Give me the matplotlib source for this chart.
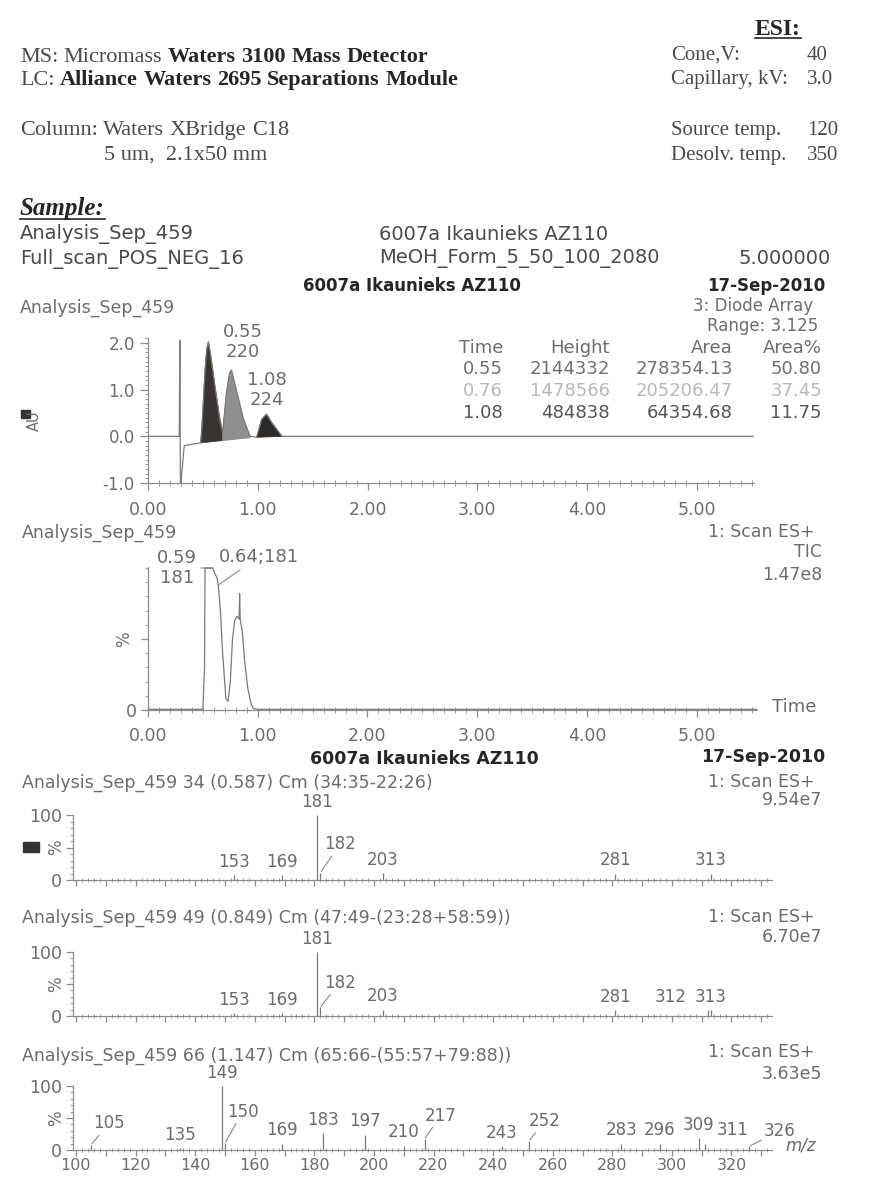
import matplotlib
matplotlib.use("Agg")
import matplotlib.pyplot as plt
from matplotlib.ticker import MultipleLocator, FixedLocator, FuncFormatter, NullFormatter
from matplotlib.lines import Line2D
from matplotlib.patches import Rectangle, Polygon

# ---------------------------------------------------------------- data
# Diode-array chromatogram: retention time (min) and absorbance (AU)
uv_time = [0.00, 0.285, 0.29, 0.295, 0.30, 0.33, 0.40, 0.48, 0.49, 0.52, 0.535,
           0.55, 0.57, 0.61, 0.655, 0.68, 0.715, 0.745, 0.76, 0.81, 0.87, 0.93,
           0.99, 1.035, 1.08, 1.125, 1.22, 5.52]
uv_au = [0.00, 0.00, 2.06, -1.00, -1.00, -0.20, -0.17, -0.14, 0.15, 1.43, 1.86,
         2.02, 1.75, 1.07, 0.36, 0.08, 0.94, 1.37, 1.43, 0.94, 0.36, 0.00,
         -0.02, 0.36, 0.475, 0.30, 0.00, 0.00]

# integrated diode-array peaks
peak_time = [0.55, 0.76, 1.08]
peak_height = [2144332, 1478566, 484838]
peak_area = [278354.13, 205206.47, 64354.68]
peak_area_pct = [50.80, 37.45, 11.75]
peak_start = [0.48, 0.68, 0.99]
peak_end = [0.68, 0.93, 1.22]
peak_floor_start = [-0.14, -0.09, -0.02]
peak_floor_end = [-0.09, -0.03, 0.00]
peak_floor_apex = [-0.12, -0.06, -0.01]
peak_lambda = {0.55: 220, 1.08: 224}

# total ion current (% of 1.47e8)
tic_time = [0.00, 0.50, 0.515, 0.52, 0.59, 0.61, 0.63, 0.64, 0.66, 0.68, 0.71,
            0.73, 0.75, 0.77, 0.79, 0.81, 0.83, 0.835, 0.84, 0.86, 0.88, 0.91,
            0.94, 0.96, 1.00, 5.55]
tic_pct = [0.5, 0.5, 30, 100, 100, 96, 93, 88, 70, 40, 8,
           6, 20, 50, 63, 66, 64, 82, 64, 55, 35, 15,
           4, 1, 0.5, 0.5]

# mass spectra (m/z, relative intensity %)
ms1_mz = [153, 169, 181, 182, 203, 281, 313]
ms1_int = [7, 7, 100, 11, 11, 10, 10]
ms2_mz = [153, 169, 181, 182, 203, 281, 312, 313]
ms2_int = [4, 4, 100, 14, 10, 9, 9, 9]
ms3_mz = [105, 135, 149, 150, 169, 183, 197, 210, 217, 243, 252, 283, 296, 309, 311, 326]
ms3_int = [8, 3, 100, 11, 10, 26, 24, 7, 17, 6, 14, 10, 10, 18, 10, 6]

# ---------------------------------------------------------------- style
SANS = ["DejaVu Sans"]
SERIF = ["Liberation Serif", "DejaVu Serif"]
INK = "#262626"
SOFT = "#4a4a4a"
GREY = "#6c6c6c"
PALE = "#b8b8b8"
AXIS = "#8c8c8c"
TRACE = "#7a7a7a"
PEAK_FILL = ["#3b3430", "#8f8f8f", "#2e2926"]

plt.rcParams["font.family"] = SANS

W, H = 879, 1179
fig = plt.figure(figsize=(W / 100, H / 100), dpi=100)
fig.patch.set_facecolor("white")
rend = fig.canvas.get_renderer()


def fx(x):
    return x / W


def fy(y):
    return 1 - y / H


def put(x, y, s, size=12.5, color=GREY, ha="left", va="center", family=SANS, **kw):
    return fig.text(fx(x), fy(y), s, fontsize=size, color=color, ha=ha, va=va,
                    family=family, **kw)


def runs(x, y, parts, size):
    """Serif words of mixed weight laid out along one baseline."""
    gap = size * 100 / 72 * 0.25
    for word, weight, color in parts:
        t = put(x, y, word, size=size, color=color, va="baseline", family=SERIF,
                weight=weight)
        x += t.get_window_extent(rend).width + gap
    return x


def underline(t, y, lw=1.2):
    bb = t.get_window_extent(rend)
    fig.add_artist(Line2D([bb.x0 / W, bb.x1 / W], [fy(y), fy(y)], color=INK, lw=lw))


def axes_px(left, top, right, bottom):
    ax = fig.add_axes([fx(left), fy(bottom), (right - left) / W, (bottom - top) / H])
    ax.patch.set_alpha(0)
    for s in ("top", "right"):
        ax.spines[s].set_visible(False)
    for s in ("left", "bottom"):
        ax.spines[s].set_color(AXIS)
        ax.spines[s].set_linewidth(0.9)
    ax.tick_params(which="both", colors=AXIS, labelcolor=GREY)
    return ax


# ---------------------------------------------------------------- header
t = put(778, 35, "ESI:", size=17, color=INK, ha="center", va="baseline",
        family=SERIF, weight="bold")
underline(t, 38)

runs(20, 62, [("MS:", "normal", SOFT), ("Micromass", "normal", SOFT),
              ("Waters", "bold", INK), ("3100", "bold", INK), ("Mass", "bold", INK),
              ("Detector", "bold", INK)], 16)
runs(20, 85, [("LC:", "normal", SOFT), ("Alliance", "bold", INK), ("Waters", "bold", INK),
              ("2695", "bold", INK), ("Separations", "bold", INK), ("Module", "bold", INK)], 16)
runs(20, 135, [("Column:", "normal", SOFT), ("Waters", "normal", SOFT),
               ("XBridge", "normal", SOFT), ("C18", "normal", SOFT)], 16)
put(104, 160, "5 um,  2.1x50 mm", size=16, color=SOFT, va="baseline", family=SERIF)

for y, name, val in [(60, "Cone,V:", "40"), (84, "Capillary, kV:", "3.0"),
                     (135, "Source temp.", "120"), (160, "Desolv. temp.", "350")]:
    put(671, y, name, size=15, color=SOFT, va="baseline", family=SERIF)
    put(807, y, val, size=15, color=SOFT, va="baseline", family=SERIF)

t = put(20, 215, "Sample:", size=18, color=INK, va="baseline", family=SERIF,
        weight="bold", style="italic")
underline(t, 219)

put(20, 234, "Analysis_Sep_459", size=14, color=SOFT)
put(20, 259, "Full_scan_POS_NEG_16", size=14, color=SOFT)
put(379, 234, "6007a Ikaunieks AZ110", size=14, color=SOFT)
put(379, 259, "MeOH_Form_5_50_100_2080", size=14, color=SOFT)
put(831, 259, "5.000000", size=14, color=SOFT, ha="right")
put(303, 286, "6007a Ikaunieks AZ110", size=12, color=INK, weight="bold")
put(825, 286, "17-Sep-2010", size=12, color=INK, weight="bold", ha="right")

# ---------------------------------------------------------------- diode array
put(20, 308, "Analysis_Sep_459", size=12.5)
put(813, 306, "3: Diode Array", size=12, ha="right")
put(818, 326, "Range: 3.125", size=12, ha="right")

col_right = [503, 610, 733, 822]
for xr, head in zip(col_right, ["Time", "Height", "Area", "Area%"]):
    put(xr, 348, head, size=13, ha="right")
row_colors = ["#707070", PALE, "#555555"]
for i, (tm, ht, ar, pc) in enumerate(zip(peak_time, peak_height, peak_area, peak_area_pct)):
    y = 369 + 22 * i
    for xr, s in zip(col_right, [f"{tm:.2f}", f"{ht:d}", f"{ar:.2f}", f"{pc:.2f}"]):
        put(xr, y, s, size=13, ha="right", color=row_colors[i])

# apex of every integrated peak sits at its floor plus the tabulated height
for tm, ht, fl in zip(peak_time, peak_height, peak_floor_apex):
    uv_au[uv_time.index(tm)] = ht / 1e6 + fl

ax_uv = axes_px(148, 338.3, 754, 483)
ax_uv.set_xlim(0, 5.52)
ax_uv.set_ylim(-1.0, 2.1)
for i in range(len(peak_time)):
    pts = [(tt, vv) for tt, vv in zip(uv_time, uv_au) if peak_start[i] <= tt <= peak_end[i]]
    pts += [(peak_end[i], peak_floor_end[i]), (peak_start[i], peak_floor_start[i])]
    ax_uv.add_patch(Polygon(pts, closed=True, facecolor=PEAK_FILL[i], edgecolor=PEAK_FILL[i],
                            lw=0.6))
ax_uv.plot(uv_time, uv_au, color=TRACE, lw=0.9)

for tm, nm in peak_lambda.items():
    apex = uv_au[uv_time.index(tm)]
    if tm == peak_time[0]:
        ax_uv.annotate(f"{tm:.2f}\n{nm}", xy=(tm, apex), xytext=(25, 0),
                       textcoords="offset points", ha="center", va="center",
                       fontsize=13, color=GREY, linespacing=1.15, annotation_clip=False)
    else:
        ax_uv.annotate(f"{tm:.2f}\n{nm}", xy=(tm, apex), xytext=(0, 4),
                       textcoords="offset points", ha="center", va="bottom",
                       fontsize=13, color=GREY, linespacing=1.15, annotation_clip=False)

ax_uv.xaxis.set_major_locator(MultipleLocator(1.0))
ax_uv.xaxis.set_minor_locator(MultipleLocator(0.1))
ax_uv.xaxis.set_major_formatter(FuncFormatter(lambda v, p: f"{v:.2f}"))
ax_uv.yaxis.set_major_locator(FixedLocator([-1.0, 0.0, 1.0, 2.0]))
ax_uv.yaxis.set_minor_locator(MultipleLocator(0.1))
ax_uv.yaxis.set_major_formatter(FuncFormatter(lambda v, p: f"{v:.1f}"))
ax_uv.tick_params(axis="x", which="major", direction="out", length=5, width=0.9,
                  pad=8, labelsize=12.5)
ax_uv.tick_params(axis="x", which="minor", direction="inout", length=4, width=0.6)
ax_uv.tick_params(axis="y", which="major", direction="out", length=6, width=0.9,
                  pad=3.5, labelsize=12)
ax_uv.tick_params(axis="y", which="minor", direction="out", length=2.5, width=0.6)

fig.add_artist(Rectangle((fx(21), fy(418)), 9 / W, 8 / H, color="#333333"))
put(34, 421, "AU", size=10.5, color=GREY, ha="center", rotation=90)

# ---------------------------------------------------------------- TIC
put(22, 533, "Analysis_Sep_459", size=12.5)
put(815, 532, "1: Scan ES+", size=12.5, ha="right")
put(822, 552, "TIC", size=12.5, ha="right")
put(822, 575, "1.47e8", size=12.5, ha="right")
put(772, 707, "Time", size=13)

ax_tic = axes_px(148, 567, 757, 710)
ax_tic.set_xlim(0, 5.55)
ax_tic.set_ylim(0, 100.7)
ax_tic.plot(tic_time, tic_pct, color=TRACE, lw=0.9)

ax_tic.annotate("0.59\n181", xy=(0.59, tic_pct[tic_time.index(0.59)]), xytext=(-26, 0),
                textcoords="offset points", ha="center", va="center", fontsize=13,
                color=GREY, linespacing=1.2, annotation_clip=False,
                arrowprops=dict(arrowstyle="-", color=TRACE, lw=0.7, shrinkA=1, shrinkB=0))
ax_tic.annotate("0.64;181", xy=(0.64, tic_pct[tic_time.index(0.64)]), xytext=(29, 20),
                textcoords="offset points", ha="center", va="center", fontsize=13,
                color=GREY, annotation_clip=False,
                arrowprops=dict(arrowstyle="-", color=TRACE, lw=0.7, shrinkA=1, shrinkB=0))

ax_tic.xaxis.set_major_locator(MultipleLocator(1.0))
ax_tic.xaxis.set_minor_locator(MultipleLocator(0.1))
ax_tic.xaxis.set_major_formatter(FuncFormatter(lambda v, p: f"{v:.2f}"))
ax_tic.yaxis.set_major_locator(FixedLocator([0, 50]))
ax_tic.yaxis.set_minor_locator(MultipleLocator(10))
ax_tic.yaxis.set_major_formatter(FuncFormatter(lambda v, p: "0" if v == 0 else ""))
ax_tic.tick_params(axis="x", which="major", direction="out", length=5, width=0.9,
                   pad=7, labelsize=12.5)
ax_tic.tick_params(axis="x", which="minor", direction="inout", length=4, width=0.6)
ax_tic.tick_params(axis="y", which="major", direction="out", length=5, width=0.9,
                   pad=3, labelsize=12.5)
ax_tic.tick_params(axis="y", which="minor", direction="out", length=2.5, width=0.6)
ax_tic.annotate("%", xy=(0, 50), xycoords=("axes fraction", "data"), xytext=(-17, 0),
                textcoords="offset points", rotation=90, ha="center", va="center",
                fontsize=12, color=GREY)

put(310, 759, "6007a Ikaunieks AZ110", size=12.5, color=INK, weight="bold")
put(825, 757, "17-Sep-2010", size=12.5, color=INK, weight="bold", ha="right")


# ---------------------------------------------------------------- spectra
def spectrum(top, bottom, mz, inten, offsets, leaders, title, scale, title_y,
             scan_y, scale_y, show_mz):
    put(22, title_y, title, size=12.5)
    put(815, scan_y, "1: Scan ES+", size=12.5, ha="right")
    put(822, scale_y, scale, size=12.5, ha="right")

    ax = axes_px(73, top, 772, bottom)
    ax.set_xlim(99.0, 333.6)
    ax.set_ylim(0, 100)
    ax.vlines(mz, 0, inten, colors=TRACE, lw=0.9)
    for m, v in zip(mz, inten):
        dx, dy = offsets.get(m, (0, 3))
        ap = None
        if m in leaders:
            ap = dict(arrowstyle="-", color=TRACE, lw=0.7, shrinkA=0, shrinkB=1)
        ax.annotate(str(m), xy=(m, v), xytext=(dx, dy), textcoords="offset points",
                    ha="center", va="bottom", fontsize=12, color=GREY,
                    arrowprops=ap, annotation_clip=False)

    ax.xaxis.set_major_locator(MultipleLocator(10))
    ax.xaxis.set_minor_locator(MultipleLocator(2))
    if show_mz:
        ax.xaxis.set_major_formatter(
            FuncFormatter(lambda v, p: f"{v:.0f}" if round(v) % 20 == 0 else ""))
    else:
        ax.xaxis.set_major_formatter(NullFormatter())
    ax.yaxis.set_major_locator(FixedLocator([0, 50, 100]))
    ax.yaxis.set_minor_locator(MultipleLocator(10))
    ax.yaxis.set_major_formatter(FuncFormatter(
        lambda v, p: "0" if v == 0 else ("100" if v == 100 else "")))
    ax.tick_params(axis="x", which="major", direction="out", length=4.5, width=0.9,
                   pad=1.5, labelsize=11.5)
    ax.tick_params(axis="x", which="minor", direction="inout", length=3.5, width=0.6)
    ax.tick_params(axis="y", which="major", direction="out", length=5, width=0.9,
                   pad=3, labelsize=12.5)
    ax.tick_params(axis="y", which="minor", direction="out", length=2.5, width=0.6)
    ax.annotate("%", xy=(0, 50), xycoords=("axes fraction", "data"), xytext=(-12, 0),
                textcoords="offset points", rotation=90, ha="center", va="center",
                fontsize=12, color=GREY)
    return ax


spectrum(815, 880, ms1_mz, ms1_int, {182: (14, 14)}, {182},
         "Analysis_Sep_459 34 (0.587) Cm (34:35-22:26)", "9.54e7", 783, 782, 800, False)
fig.add_artist(Rectangle((fx(23), fy(852)), 16 / W, 10 / H, color="#333333"))

spectrum(952, 1016, ms2_mz, ms2_int, {182: (14, 11), 312: (-27, 3)}, {182},
         "Analysis_Sep_459 49 (0.849) Cm (47:49-(23:28+58:59))", "6.70e7", 918, 917, 937,
         False)

spectrum(1086, 1150, ms3_mz, ms3_int,
         {105: (13, 9), 150: (13, 16), 217: (11.5, 10.5), 252: (11.5, 8),
          311: (20, 3), 326: (22, 4.5)},
         {105, 150, 217, 252, 326},
         "Analysis_Sep_459 66 (1.147) Cm (65:66-(55:57+79:88))", "3.63e5", 1056, 1052,
         1074, True)
put(785, 1146, "m/z", size=12, style="italic")

fig.savefig("out.png", dpi=100, facecolor="white")
